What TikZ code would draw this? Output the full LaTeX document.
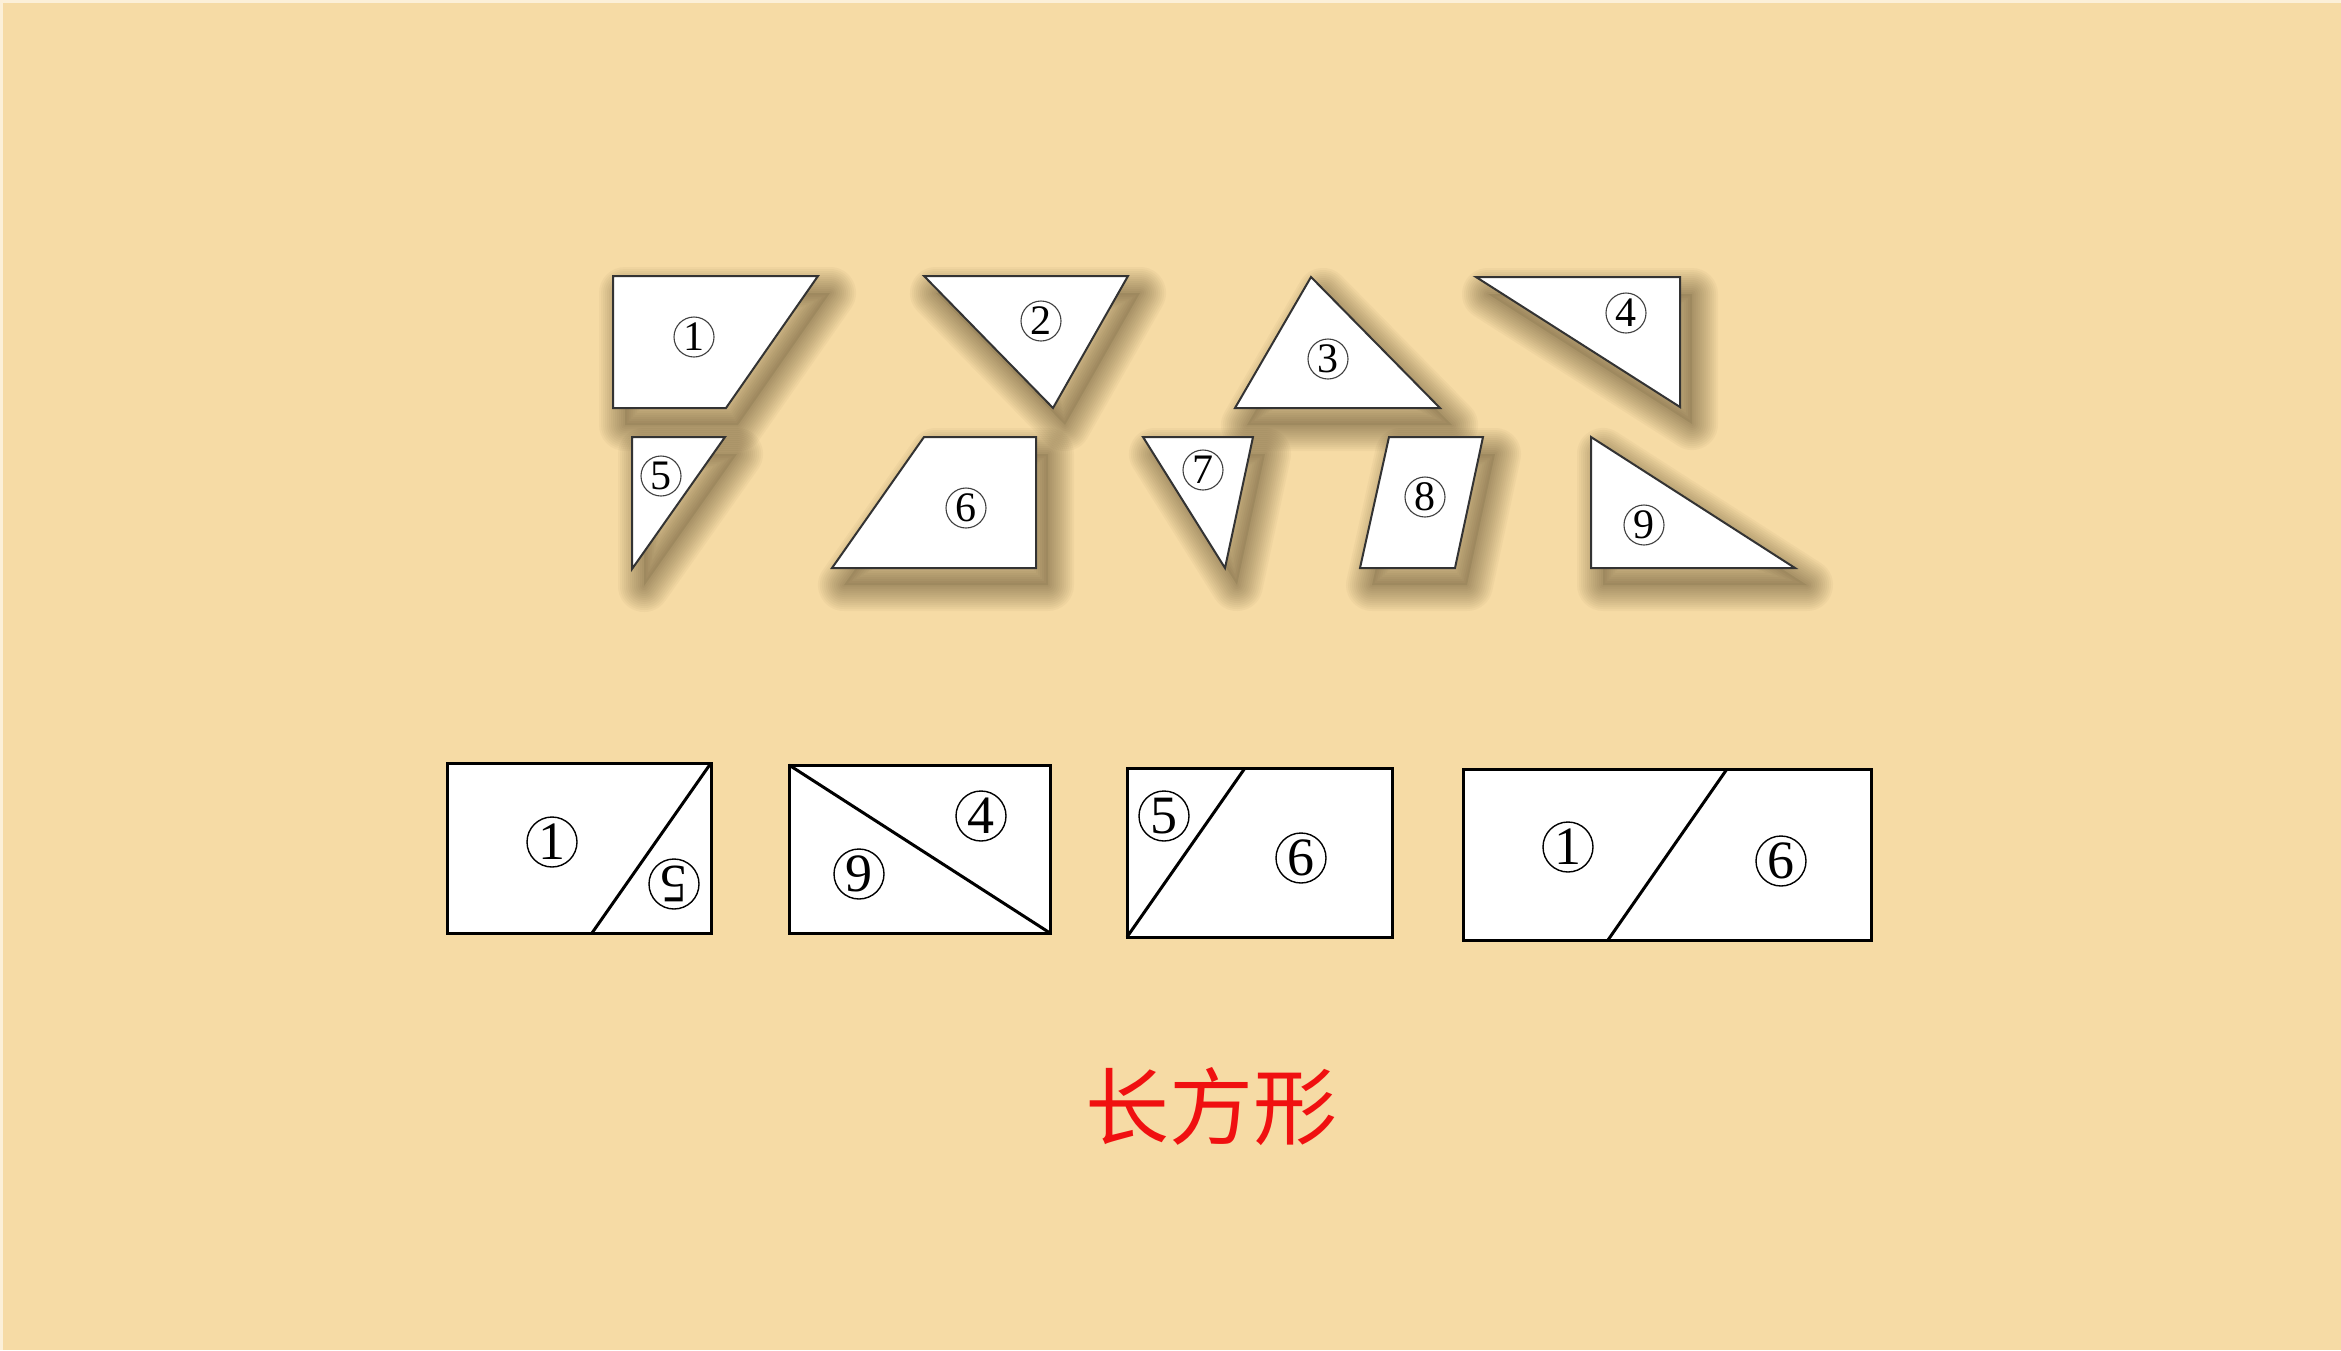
\documentclass[tikz,border=0pt]{standalone}
\usepackage{fontspec}
\setmainfont{Liberation Serif}
\newfontfamily\cjk{Noto Sans CJK SC}
\definecolor{bg}{HTML}{F6DBA5}
\definecolor{edge}{HTML}{FCF0D8}
\definecolor{outl}{HTML}{333333}
\definecolor{hanred}{HTML}{F01010}
\definecolor{shad}{HTML}{3A2A10}
\newcommand\softshadow[1]{%
  \begin{scope}[shift={(12,17)}]
    \foreach \w in {26,24,...,2}{%
      \draw[shad,draw opacity=0.035,line width=\w pt,line join=round] #1 -- cycle;}
    \fill[shad,fill opacity=0.1] #1 -- cycle;
  \end{scope}}
\newcommand\piece[1]{\fill[white] #1 -- cycle; \draw[outl,line width=1pt,line join=miter] #1 -- cycle;}
\begin{document}
\begin{tikzpicture}[x=0.5pt,y=-0.5pt,
  cn/.style={circle,draw=black!75,line width=0.55pt,inner sep=0pt,minimum size=20pt,
    font=\fontsize{21}{21}\selectfont},
  cnb/.style={circle,draw=black,line width=0.7pt,inner sep=0pt,minimum size=25pt,
    font=\fontsize{27}{27}\selectfont},
  rectbox/.style={fill=white,draw=black,line width=1.5pt},
  cutline/.style={draw=black,line width=1.5pt}]
\fill[bg] (0,0) rectangle (2341,1350);
\useasboundingbox (0,0) rectangle (2341,1350);
\draw[edge,line width=1.5pt] (1,1350) -- (1,1) -- (2341,1);
% shadows
\softshadow{(613,276) -- (818,276) -- (726,408) -- (613,408)}
\softshadow{(924,276) -- (1128,276) -- (1053,408)}
\softshadow{(1311,277) -- (1440,408) -- (1235,408)}
\softshadow{(1476,277) -- (1680,277) -- (1680,407)}
\softshadow{(632,437) -- (725,437) -- (632,569)}
\softshadow{(924,437) -- (1036,437) -- (1036,568) -- (832,568)}
\softshadow{(1143,437) -- (1253,437) -- (1225,568)}
\softshadow{(1389,437) -- (1483,437) -- (1455,568) -- (1360,568)}
\softshadow{(1591,437) -- (1795,568) -- (1591,568)}
% pieces
\piece{(613,276) -- (818,276) -- (726,408) -- (613,408)}
\piece{(924,276) -- (1128,276) -- (1053,408)}
\piece{(1311,277) -- (1440,408) -- (1235,408)}
\piece{(1476,277) -- (1680,277) -- (1680,407)}
\piece{(632,437) -- (725,437) -- (632,569)}
\piece{(924,437) -- (1036,437) -- (1036,568) -- (832,568)}
\piece{(1143,437) -- (1253,437) -- (1225,568)}
\piece{(1389,437) -- (1483,437) -- (1455,568) -- (1360,568)}
\piece{(1591,437) -- (1795,568) -- (1591,568)}
\node[cn] (l1) at (694,337) {1};
\node[cn] (l2) at (1041,321) {2};
\node[cn] (l3) at (1328,359) {3};
\node[cn] (l4) at (1626,313) {4};
\node[cn] (l5) at (661,476) {5};
\node[cn] (l6) at (966,508) {6};
\node[cn] (l7) at (1203,470) {7};
\node[cn] (l8) at (1425,497) {8};
\node[cn] (l9) at (1644,525) {9};
% rectangles
\draw[rectbox] (447,763) rectangle (711,933);
\draw[cutline] (711,763) -- (592,933);
\node[cnb] (a1) at (552,842) {1};
\node[cnb,rotate=180] (a5) at (674,884) {5};
\draw[rectbox] (789,765) rectangle (1050,933);
\draw[cutline] (789,765) -- (1050,933);
\node[cnb] (b4) at (981,816) {4};
\node[cnb] (b9) at (859,874) {9};
\draw[rectbox] (1127,768) rectangle (1392,937);
\draw[cutline] (1245,768) -- (1127,937);
\node[cnb] (c5) at (1164,816) {5};
\node[cnb] (c6) at (1301,858) {6};
\draw[rectbox] (1463,769) rectangle (1871,940);
\draw[cutline] (1727,769) -- (1608,940);
\node[cnb] (d1) at (1568,847) {1};
\node[cnb] (d6) at (1781,861) {6};
\node[text=hanred,font=\cjk\fontsize{42}{42}\selectfont] (title) at (1211,1107) {长方形};
\end{tikzpicture}
\end{document}
